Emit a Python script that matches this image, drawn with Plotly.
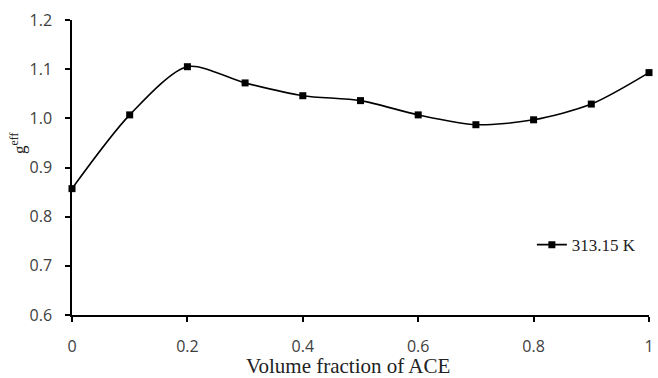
import plotly.graph_objects as go

x_vals = [0, 0.1, 0.2, 0.3, 0.4, 0.5, 0.6, 0.7, 0.8, 0.9, 1.0]
g_eff = [0.857, 1.007, 1.105, 1.072, 1.046, 1.036, 1.007, 0.987, 0.997, 1.029, 1.093]
series_name = "313.15 K"
x_ticks = [0, 0.2, 0.4, 0.6, 0.8, 1.0]
x_tick_labels = ["0", "0.2", "0.4", "0.6", "0.8", "1"]
y_ticks = [0.6, 0.7, 0.8, 0.9, 1.0, 1.1, 1.2]

fig = go.Figure()
fig.add_trace(go.Scatter(
    x=x_vals, y=g_eff, name=series_name, mode="lines+markers",
    line=dict(color="black", width=1.6, shape="spline", smoothing=0.8),
    marker=dict(symbol="square", size=7, color="black"),
    cliponaxis=False,
))

tick_font = dict(family="Open Sans", size=16, color="#404040")
fig.update_layout(
    width=658, height=378,
    margin=dict(l=72, r=9, t=20, b=63, autoexpand=False),
    paper_bgcolor="white", plot_bgcolor="white",
    showlegend=True,
    legend=dict(x=0.797, y=0.237, xanchor="left", yanchor="middle",
                font=dict(family="Liberation Serif", size=17, color="#222"),
                bgcolor="rgba(0,0,0,0)", itemwidth=30),
    xaxis=dict(range=[0, 1], tickvals=x_ticks, ticktext=x_tick_labels,
               showgrid=False, zeroline=False, showline=True, linecolor="black",
               linewidth=1.5, ticks="outside", ticklen=5, tickcolor="black",
               tickwidth=1.5, ticklabelstandoff=11, automargin=False,
               ticklabeloverflow="allow", tickfont=tick_font),
    yaxis=dict(range=[0.6, 1.2], tickvals=y_ticks, tickformat=".1f",
               showgrid=False, zeroline=False, showline=True, linecolor="black",
               linewidth=1.5, ticks="outside", ticklen=5, tickcolor="black",
               tickwidth=1.5, ticklabelstandoff=10, automargin=False,
               ticklabeloverflow="allow", tickfont=tick_font),
    annotations=[
        dict(text="Volume fraction of ACE", xref="paper", yref="paper",
             x=(348 - 72) / 577, y=-(366 - 315) / 295, xanchor="center", yanchor="middle",
             showarrow=False,
             font=dict(family="Liberation Serif", size=21, color="#222")),
        dict(text="g<sup>eff</sup>", xref="paper", yref="paper",
             x=(18 - 72) / 577, y=(315 - 143) / 295, xanchor="center", yanchor="middle",
             showarrow=False, textangle=-90,
             font=dict(family="Liberation Serif", size=17, color="#222")),
    ],
)

fig.write_html("out.html", config={"displayModeBar": False},
               post_script="document.body.style.margin='0';document.body.style.overflow='hidden';")
